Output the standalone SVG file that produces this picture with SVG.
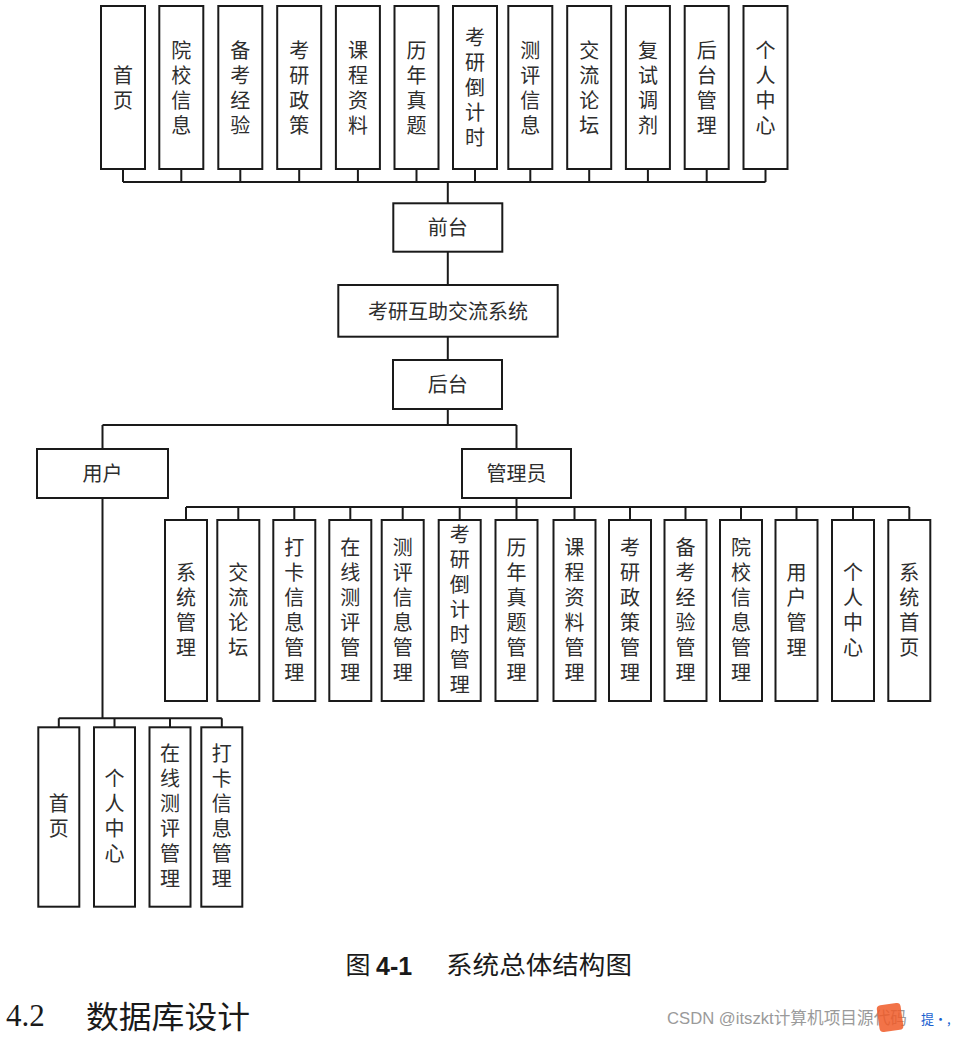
<svg xmlns="http://www.w3.org/2000/svg" width="957" height="1037" viewBox="0 0 957 1037">
<style>
  .box { fill: #ffffff; stroke: #1a1a1a; stroke-width: 2; }
  .lbl { font-family: "Noto Sans CJK SC", "Noto Sans", sans-serif; font-size: 20px; fill: #2e2e2e; text-anchor: middle; }
  .v { writing-mode: vertical-rl; letter-spacing: 5px; }
  .conn { fill: none; stroke: #1a1a1a; stroke-width: 2; }
  .cap { font-family: "Noto Sans CJK SC", "Liberation Sans", sans-serif; fill: #1a1a1a; }
</style>
<rect x="0" y="0" width="957" height="1037" fill="#ffffff"/>

<g id="connectors" class="conn">
  <path d="M123,169V182M181.3,169V182M240.3,169V182M299.2,169V182M357.9,169V182M416.5,169V182M475,169V182M530.3,169V182M589.2,169V182M647.9,169V182M706.7,169V182M765.5,169V182"/>
  <path d="M123,182H765.5"/>
  <path d="M447.8,182V203.3"/>
  <path d="M447.8,251.7V285"/>
  <path d="M447.8,336.7V360"/>
  <path d="M447.8,409V425"/>
  <path d="M102.5,425H516.5M102.5,425V449M516.5,425V449"/>
  <path d="M516.5,498V507M186,507H909.3"/>
  <path d="M186,507V520M238.3,507V520M294.3,507V520M350.3,507V520M402.7,507V520M459.7,507V520M516.5,507V520M574.5,507V520M630,507V520M685.5,507V520M741,507V520M796.5,507V520M853,507V520M909.3,507V520"/>
  <path d="M102.5,498V718.3M58.8,718.3H221.8"/>
  <path d="M58.8,718.3V727M114.5,718.3V727M170,718.3V727M221.8,718.3V727"/>
</g>

<!-- Top row (前台 children) -->
<g id="n-shouye"><rect class="box" x="101" y="6" width="44" height="163"/><text class="lbl v" x="123" y="90">首页</text></g>
<g id="n-yuanxiao"><rect class="box" x="159.3" y="6" width="44" height="163"/><text class="lbl v" x="181.3" y="90">院校信息</text></g>
<g id="n-beikao"><rect class="box" x="218.3" y="6" width="44" height="163"/><text class="lbl v" x="240.3" y="90">备考经验</text></g>
<g id="n-zhengce"><rect class="box" x="277.2" y="6" width="44" height="163"/><text class="lbl v" x="299.2" y="90">考研政策</text></g>
<g id="n-kecheng"><rect class="box" x="335.9" y="6" width="44" height="163"/><text class="lbl v" x="357.9" y="90">课程资料</text></g>
<g id="n-zhenti"><rect class="box" x="394.5" y="6" width="44" height="163"/><text class="lbl v" x="416.5" y="90">历年真题</text></g>
<g id="n-daojishi"><rect class="box" x="453" y="6" width="44" height="163"/><text class="lbl v" x="475" y="90">考研倒计时</text></g>
<g id="n-ceping"><rect class="box" x="508.3" y="6" width="44" height="163"/><text class="lbl v" x="530.3" y="90">测评信息</text></g>
<g id="n-luntan"><rect class="box" x="567.2" y="6" width="44" height="163"/><text class="lbl v" x="589.2" y="90">交流论坛</text></g>
<g id="n-tiaoji"><rect class="box" x="625.9" y="6" width="44" height="163"/><text class="lbl v" x="647.9" y="90">复试调剂</text></g>
<g id="n-houtaiguanli"><rect class="box" x="684.7" y="6" width="44" height="163"/><text class="lbl v" x="706.7" y="90">后台管理</text></g>
<g id="n-geren"><rect class="box" x="743.5" y="6" width="44" height="163"/><text class="lbl v" x="765.5" y="90">个人中心</text></g>

<!-- Middle -->
<g id="n-qiantai"><rect class="box" x="393.3" y="203.3" width="109" height="48.4"/><text class="lbl" x="447.8" y="235">前台</text></g>
<g id="n-system"><rect class="box" x="338.3" y="285" width="219.4" height="51.7"/><text class="lbl" x="448" y="318.5">考研互助交流系统</text></g>
<g id="n-houtai"><rect class="box" x="393" y="360" width="109" height="49"/><text class="lbl" x="447.8" y="391.5">后台</text></g>
<g id="n-yonghu"><rect class="box" x="37" y="449" width="131" height="49"/><text class="lbl" x="102.5" y="480.5">用户</text></g>
<g id="n-guanliyuan"><rect class="box" x="462" y="449" width="109" height="49"/><text class="lbl" x="516.5" y="480.5">管理员</text></g>

<!-- Admin row -->
<g id="a-xitong"><rect class="box" x="165" y="520" width="42" height="181"/><text class="lbl v" x="186" y="612">系统管理</text></g>
<g id="a-luntan"><rect class="box" x="217.3" y="520" width="42" height="181"/><text class="lbl v" x="238.3" y="612">交流论坛</text></g>
<g id="a-daka"><rect class="box" x="273.3" y="520" width="42" height="181"/><text class="lbl v" x="294.3" y="612">打卡信息管理</text></g>
<g id="a-zaixian"><rect class="box" x="329.3" y="520" width="42" height="181"/><text class="lbl v" x="350.3" y="612">在线测评管理</text></g>
<g id="a-ceping"><rect class="box" x="381.7" y="520" width="42" height="181"/><text class="lbl v" x="402.7" y="612">测评信息管理</text></g>
<g id="a-daojishi"><rect class="box" x="438.7" y="520" width="42" height="181"/><text class="lbl v" x="459.7" y="612">考研倒计时管理</text></g>
<g id="a-zhenti"><rect class="box" x="495.5" y="520" width="42" height="181"/><text class="lbl v" x="516.5" y="612">历年真题管理</text></g>
<g id="a-kecheng"><rect class="box" x="553.5" y="520" width="42" height="181"/><text class="lbl v" x="574.5" y="612">课程资料管理</text></g>
<g id="a-zhengce"><rect class="box" x="609" y="520" width="42" height="181"/><text class="lbl v" x="630" y="612">考研政策管理</text></g>
<g id="a-beikao"><rect class="box" x="664.5" y="520" width="42" height="181"/><text class="lbl v" x="685.5" y="612">备考经验管理</text></g>
<g id="a-yuanxiao"><rect class="box" x="720" y="520" width="42" height="181"/><text class="lbl v" x="741" y="612">院校信息管理</text></g>
<g id="a-yonghu"><rect class="box" x="775.5" y="520" width="42" height="181"/><text class="lbl v" x="796.5" y="612">用户管理</text></g>
<g id="a-geren"><rect class="box" x="832" y="520" width="42" height="181"/><text class="lbl v" x="853" y="612">个人中心</text></g>
<g id="a-shouye"><rect class="box" x="888.3" y="520" width="42" height="181"/><text class="lbl v" x="909.3" y="612">系统首页</text></g>

<!-- User row -->
<g id="u-shouye"><rect class="box" x="38.3" y="727.3" width="41" height="179.4"/><text class="lbl v" x="58.8" y="818.5">首页</text></g>
<g id="u-geren"><rect class="box" x="94" y="727.3" width="41" height="179.4"/><text class="lbl v" x="114.5" y="818.5">个人中心</text></g>
<g id="u-zaixian"><rect class="box" x="149.5" y="727.3" width="41" height="179.4"/><text class="lbl v" x="170" y="818.5">在线测评管理</text></g>
<g id="u-daka"><rect class="box" x="201.3" y="727.3" width="41" height="179.4"/><text class="lbl v" x="221.8" y="818.5">打卡信息管理</text></g>

<!-- Caption and heading -->
<g id="caption">
  <text class="cap" x="345.5" y="974" font-size="25">图</text>
  <text x="376" y="975" font-family="'Liberation Sans', sans-serif" font-weight="bold" font-size="25" fill="#1a1a1a">4-1</text>
  <text class="cap" x="446" y="974" font-size="25" textLength="186" lengthAdjust="spacingAndGlyphs">系统总体结构图</text>
</g>
<g id="heading">
  <text x="6" y="1026" font-family="'Liberation Serif', serif" font-size="31" fill="#1a1a1a">4.2</text>
  <text class="cap" x="86" y="1028" font-size="31" textLength="164" lengthAdjust="spacingAndGlyphs">数据库设计</text>
</g>
<g id="watermark">
  <text x="667" y="1024" font-family="'Liberation Sans', 'Noto Sans CJK SC', sans-serif" font-size="16.5" fill="#9a9a9a" textLength="240" lengthAdjust="spacingAndGlyphs">CSDN @itszkt计算机项目源代码</text>
  <rect x="878" y="1004" width="24" height="27" rx="4" fill="#f05a28" opacity="0.85" transform="rotate(-8 890 1017)"/>
  <text x="921" y="1024" font-family="'Noto Sans CJK SC', sans-serif" font-size="13" fill="#1a5fd0">提•,</text>
</g>
</svg>
